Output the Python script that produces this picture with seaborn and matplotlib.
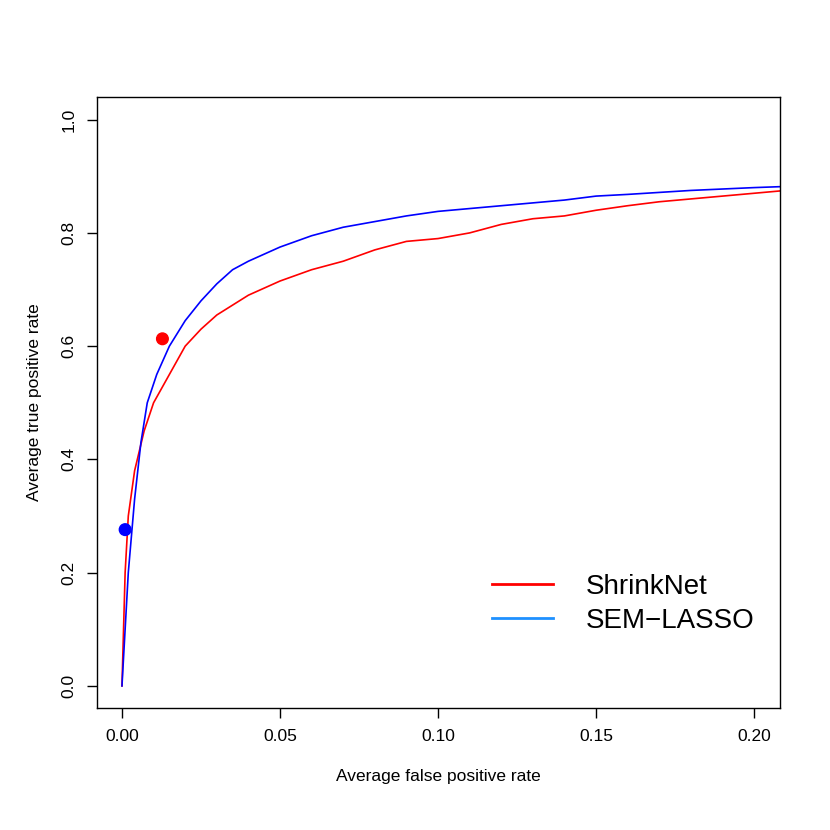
import matplotlib
matplotlib.use("Agg")
import matplotlib.pyplot as plt
import seaborn as sns
import pandas as pd

plt.rcParams["font.family"] = "Liberation Sans"

red_fpr = [0,0.001,0.002,0.004,0.007,0.01,0.013,0.017,0.02,0.025,0.03,0.04,0.05,0.06,0.07,0.08,0.09,0.10,0.11,0.12,0.13,0.14,0.15,0.16,0.17,0.18,0.19,0.20,0.21]
red_tpr = [0,0.2,0.3,0.38,0.45,0.5,0.53,0.57,0.6,0.63,0.655,0.69,0.715,0.735,0.75,0.77,0.785,0.79,0.80,0.815,0.825,0.83,0.84,0.848,0.855,0.86,0.865,0.87,0.875]
blue_fpr = [0,0.001,0.002,0.004,0.006,0.008,0.011,0.015,0.02,0.025,0.03,0.035,0.04,0.05,0.06,0.07,0.08,0.09,0.10,0.12,0.14,0.15,0.16,0.18,0.20,0.21]
blue_tpr = [0,0.1,0.2,0.33,0.43,0.5,0.55,0.6,0.645,0.68,0.71,0.735,0.75,0.775,0.795,0.81,0.82,0.83,0.838,0.848,0.858,0.865,0.868,0.875,0.88,0.882]
point_fpr = [0.0128, 0.001]
point_tpr = [0.613, 0.276]
labels = ["ShrinkNet", "SEM\u2212LASSO"]

fig = plt.figure(figsize=(8.3, 8.3), dpi=100)
ax = fig.add_axes([97/830, 1-708/830, (780-97)/830, (708-97)/830])
df_r = pd.DataFrame({"x": red_fpr, "y": red_tpr})
df_b = pd.DataFrame({"x": blue_fpr, "y": blue_tpr})
sns.lineplot(data=df_r, x="x", y="y", color="red", lw=1.2, ax=ax, sort=False)
sns.lineplot(data=df_b, x="x", y="y", color="blue", lw=1.2, ax=ax, sort=False)
ax.scatter(point_fpr, point_tpr, color=["red", "blue"], s=70, zorder=5)
ax.set_xlim(-0.0079, 0.2082)
ax.set_ylim(-0.039, 1.04)
ax.set_xticks([0, 0.05, 0.10, 0.15, 0.20])
ax.set_xticklabels(["0.00", "0.05", "0.10", "0.15", "0.20"])
ax.set_yticks([0, 0.2, 0.4, 0.6, 0.8, 1.0])
ax.set_yticklabels(["0.0", "0.2", "0.4", "0.6", "0.8", "1.0"], rotation=90, va="center")
ax.tick_params(length=7, width=1, labelsize=12.5, pad=8)
for s in ax.spines.values():
    s.set_linewidth(1)
ax.set_xlabel("Average false positive rate", fontsize=12.5, labelpad=18)
ax.set_ylabel("Average true positive rate", fontsize=12.5, labelpad=14)
from matplotlib.lines import Line2D
h = [Line2D([], [], color="red", lw=2), Line2D([], [], color="#1E90FF", lw=2)]
ax.legend(h, labels, loc="lower right", bbox_to_anchor=(1.0, 0.08), frameon=False,
          fontsize=20, handlelength=2.2, handletextpad=1.2, labelspacing=0.3)
fig.savefig("out.png", dpi=100)
